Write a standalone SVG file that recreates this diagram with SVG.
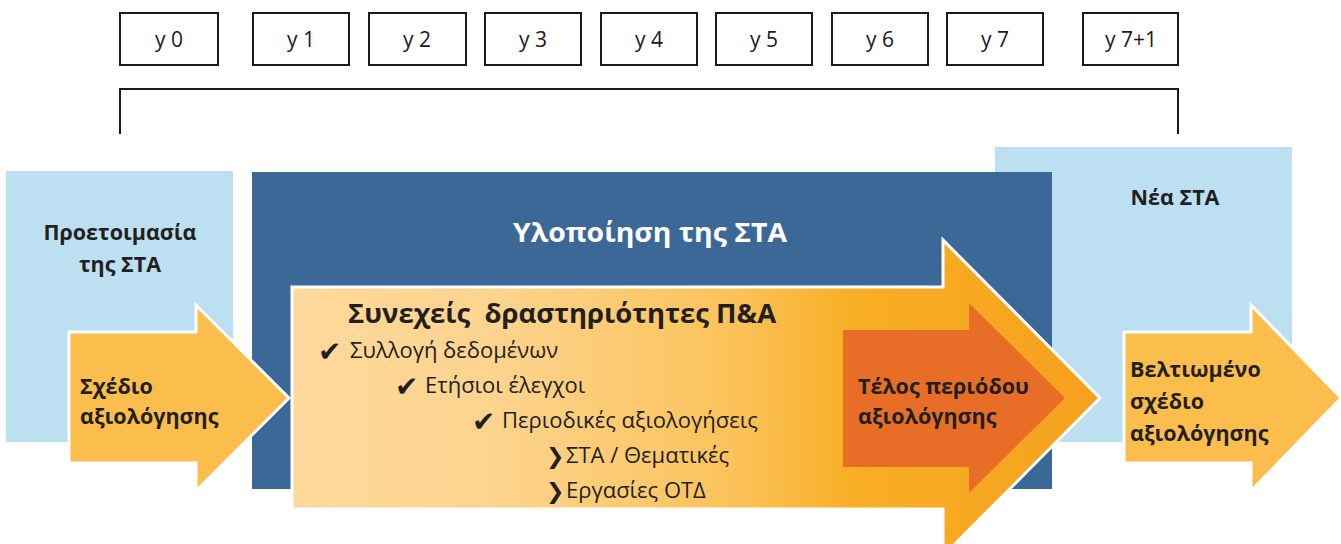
<svg xmlns="http://www.w3.org/2000/svg" width="1341" height="544" viewBox="0 0 1341 544">
<style>
.yr{fill:#fff;stroke:#1a1a1a;stroke-width:2}
.yt{font-family:"Open Sans","Liberation Sans",sans-serif;font-size:21px;fill:#1a1a1a;text-anchor:middle}
.lb{fill:#bcdff1}
.bt{font-family:"Open Sans","Liberation Sans",sans-serif;font-weight:bold;font-size:21.5px;fill:#231f20}
.it{font-family:"Open Sans","Liberation Sans",sans-serif;font-size:22px;fill:#231f20}
.ck{font-family:"DejaVu Sans",sans-serif;font-size:28px;fill:#231f20}
.ch{font-family:"DejaVu Sans",sans-serif;font-size:22px;fill:#231f20;font-weight:bold}
.arw{stroke:#fff;stroke-width:3;stroke-linejoin:miter}
</style>
<defs>
<linearGradient id="g" gradientUnits="userSpaceOnUse" x1="292" y1="0" x2="1100" y2="0">
<stop offset="0" stop-color="#fdd99c"/>
<stop offset="0.25" stop-color="#fdd48e"/>
<stop offset="0.55" stop-color="#fbc258"/>
<stop offset="0.7" stop-color="#f8ae23"/>
<stop offset="1" stop-color="#f6a11e"/>
</linearGradient>
</defs>
<g id="years">
<g id="y0"><rect class="yr" x="120" y="13" width="98" height="52"/><text class="yt" x="169" y="47">y 0</text></g>
<g id="y1"><rect class="yr" x="253" y="13" width="96" height="52"/><text class="yt" x="301" y="47">y 1</text></g>
<g id="y2"><rect class="yr" x="369" y="13" width="97" height="52"/><text class="yt" x="417" y="47">y 2</text></g>
<g id="y3"><rect class="yr" x="485" y="13" width="96" height="52"/><text class="yt" x="533" y="47">y 3</text></g>
<g id="y4"><rect class="yr" x="601" y="13" width="96" height="52"/><text class="yt" x="649" y="47">y 4</text></g>
<g id="y5"><rect class="yr" x="716" y="13" width="96" height="52"/><text class="yt" x="764" y="47">y 5</text></g>
<g id="y6"><rect class="yr" x="832" y="13" width="96" height="52"/><text class="yt" x="880" y="47">y 6</text></g>
<g id="y7"><rect class="yr" x="947" y="13" width="96" height="52"/><text class="yt" x="995" y="47">y 7</text></g>
<g id="y8"><rect class="yr" x="1083" y="13" width="95" height="52"/><text class="yt" x="1131" y="47">y 7+1</text></g>
</g>
<g id="connectors">
<path d="M120,134 V89 H1178 V134" fill="none" stroke="#1a1a1a" stroke-width="2"/>
</g>
<g id="prep">
<rect class="lb" x="6" y="171" width="227" height="271"/>
<text class="bt" x="120" y="240" text-anchor="middle">Προετοιμασία</text>
<text class="bt" x="120" y="272" text-anchor="middle">της ΣΤΑ</text>
</g>
<g id="new">
<rect class="lb" x="995" y="147" width="297" height="295"/>
<text class="bt" x="1175" y="205" text-anchor="middle">Νέα ΣΤΑ</text>
</g>
<g id="impl">
<rect x="252" y="172" width="800" height="317" fill="#3c6897"/>
<text x="650" y="242" text-anchor="middle" font-family="'Open Sans','Liberation Sans',sans-serif" font-weight="bold" font-size="27" fill="#fff" textLength="274" lengthAdjust="spacingAndGlyphs">Υλοποίηση της ΣΤΑ</text>
</g>
<g id="plan">
<path class="arw" d="M69,332 H196 V305 L289,398 L196,491 V463 H69 Z" fill="#fbbd4b"/>
<text class="bt" x="80" y="394">Σχέδιο</text>
<text class="bt" x="80" y="424">αξιολόγησης</text>
</g>
<g id="continuous">
<path class="arw" d="M292,287 H943 V240 L1100,398 L943,556 V509 H292 Z" fill="url(#g)"/>
<text x="348" y="323" font-family="'Open Sans','Liberation Sans',sans-serif" font-weight="bold" font-size="27.5" fill="#231f20" xml:space="preserve">Συνεχείς  δραστηριότητες Π&amp;A</text>
<text class="ck" x="318" y="361">✔</text><text class="it" x="350" y="358">Συλλογή δεδομένων</text>
<text class="ck" x="395" y="396">✔</text><text class="it" x="425" y="393">Ετήσιοι έλεγχοι</text>
<text class="ck" x="472" y="431">✔</text><text class="it" x="502" y="428">Περιοδικές αξιολογήσεις</text>
<text class="ch" x="546" y="464">❯</text><text class="it" x="566" y="463">ΣΤΑ / Θεματικές</text>
<text class="ch" x="546" y="499">❯</text><text class="it" x="566" y="498">Εργασίες ΟΤΔ</text>
</g>
<g id="end">
<path d="M843,330 H969 V303 L1065,398 L969,493 V467 H843 Z" fill="#e86e27"/>
<text class="bt" x="858" y="394">Τέλος περιόδου</text>
<text class="bt" x="858" y="424">αξιολόγησης</text>
</g>
<g id="improved">
<path class="arw" d="M1124,332 H1251 V305 L1341,398 L1251,491 V463 H1124 Z" fill="#fbbd4b"/>
<text class="bt" x="1130" y="377">Βελτιωμένο</text>
<text class="bt" x="1130" y="409">σχέδιο</text>
<text class="bt" x="1130" y="441">αξιολόγησης</text>
</g>
</svg>
